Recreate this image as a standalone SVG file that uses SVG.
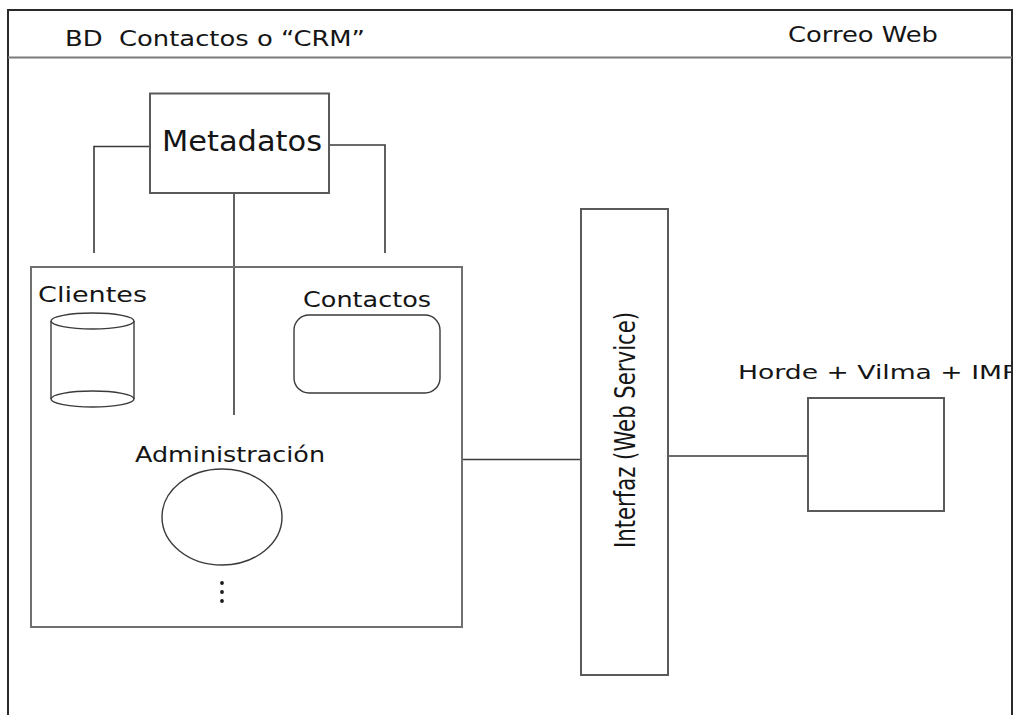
<svg xmlns="http://www.w3.org/2000/svg" width="1014" height="715" viewBox="0 0 1014 715">
  <style>
    .lbl { font-family: "DejaVu Sans", Verdana, sans-serif; fill: #151515; }
    .box { fill: #ffffff; stroke: #5a5a5a; stroke-width: 2; }
    .thin { fill: #ffffff; stroke: #3a3a3a; stroke-width: 1.4; }
    .wire { fill: none; stroke: #3a3a3a; stroke-width: 1.6; }
    .frame { fill: none; stroke: #2a2a2a; stroke-width: 2; }
  </style>
  <defs>
    <clipPath id="frameClip">
      <rect x="8" y="10" width="1003" height="705"/>
    </clipPath>
  </defs>

  <rect width="1014" height="715" fill="#ffffff"/>

  <!-- outer frame with header band -->
  <g id="frame">
    <path class="frame" d="M8,715 V10 H1012 V715"/>
    <line x1="8" y1="57.5" x2="1012" y2="57.5" stroke="#7a7a7a" stroke-width="2"/>
    <text class="lbl" x="65" y="45.5" font-size="22" textLength="300" lengthAdjust="spacingAndGlyphs" style="white-space:pre">BD  Contactos o “CRM”</text>
    <text class="lbl" x="788" y="42" font-size="21.5" textLength="150" lengthAdjust="spacingAndGlyphs">Correo Web</text>
  </g>

  <!-- connectors -->
  <g id="connectors">
    <polyline class="wire" points="150,146.5 94,146.5 94,253"/>
    <polyline class="wire" points="329,145 385,145 385,253"/>
    <line class="wire" x1="234" y1="193" x2="234" y2="415"/>
    <line class="wire" x1="462" y1="459.5" x2="581" y2="459.5" stroke="#666"/>
    <line class="wire" x1="668" y1="456" x2="808" y2="456" stroke="#666"/>
  </g>

  <!-- CRM database container -->
  <g id="crm-db">
    <rect x="31" y="267" width="431" height="360" fill="none" stroke="#707070" stroke-width="2"/>
  </g>

  <g id="metadatos">
    <rect class="box" x="150" y="93.5" width="179" height="99.5"/>
    <text class="lbl" x="162" y="150.5" font-size="28" textLength="160" lengthAdjust="spacingAndGlyphs">Metadatos</text>
  </g>

  <g id="clientes">
    <text class="lbl" x="38" y="302" font-size="20.5" textLength="109" lengthAdjust="spacingAndGlyphs">Clientes</text>
    <line class="thin" x1="51" y1="321" x2="51" y2="399"/>
    <line class="thin" x1="134" y1="321" x2="134" y2="399"/>
    <ellipse class="thin" cx="92.5" cy="321" rx="41.5" ry="8" style="fill:none"/>
    <ellipse class="thin" cx="92.5" cy="399" rx="41.5" ry="8" style="fill:none"/>
  </g>

  <g id="contactos">
    <text class="lbl" x="303" y="307" font-size="20.5" textLength="128" lengthAdjust="spacingAndGlyphs">Contactos</text>
    <rect class="thin" x="294" y="315" width="146" height="78" rx="15" ry="15"/>
  </g>

  <g id="administracion">
    <text class="lbl" x="135" y="462" font-size="20.5" textLength="190" lengthAdjust="spacingAndGlyphs">Administración</text>
    <ellipse class="thin" cx="222" cy="517" rx="60" ry="48"/>
    <circle cx="222" cy="583" r="1.9" fill="#1a1a1a"/>
    <circle cx="222" cy="592" r="1.9" fill="#1a1a1a"/>
    <circle cx="222" cy="601" r="1.9" fill="#1a1a1a"/>
  </g>

  <g id="interfaz">
    <rect class="box" x="581" y="209" width="87" height="466"/>
    <text class="lbl" transform="translate(635,430) rotate(-90)" x="0" y="0" font-size="28" text-anchor="middle" textLength="236" lengthAdjust="spacingAndGlyphs">Interfaz (Web Service)</text>
  </g>

  <g id="horde">
    <text class="lbl" x="738" y="378.5" font-size="20" textLength="280" lengthAdjust="spacingAndGlyphs" clip-path="url(#frameClip)">Horde + Vilma + IMP</text>
    <rect class="box" x="808" y="398" width="136" height="113"/>
  </g>
</svg>
